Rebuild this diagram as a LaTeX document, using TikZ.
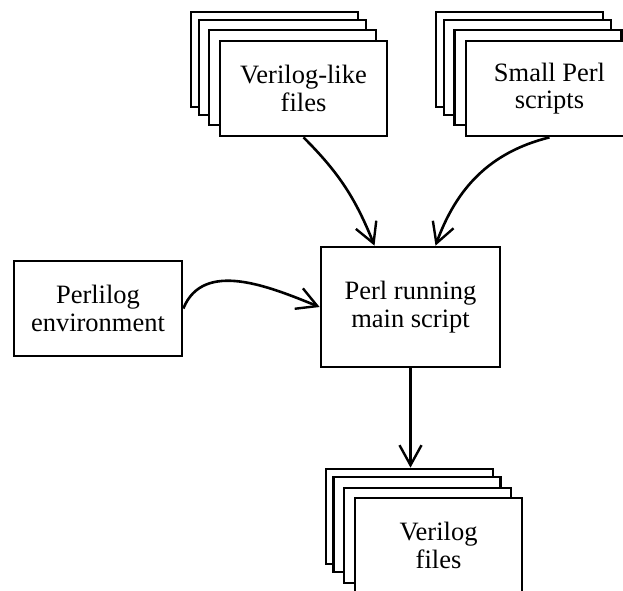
\documentclass[tikz,border=0pt]{standalone}
\usepackage{fontspec}
\setmainfont{Liberation Serif}
\usetikzlibrary{arrows.meta}
\begin{document}
\begin{tikzpicture}[x=1pt,y=-1pt,
  line width=2.7pt,
  every node/.style={font=\fontsize{26.5}{27.5}\selectfont, align=center, inner sep=0pt},
  box/.style={draw, fill=white, minimum width=167pt, minimum height=95pt},
  mainbox/.style={draw, fill=white, minimum width=179pt, minimum height=120pt},
  conn/.style={-{Straight Barb[length=20pt,width=22pt,line width=2.4pt]}, line width=2.6pt}
]
\useasboundingbox (0,0) rectangle (623,590);
\clip (0,0) rectangle (623,590);
% Verilog-like stack
\node[box] (vl0) at (274.5,59.5) {};
\node[box] (vl1) at (282.5,67.5) {};
\node[box] (vl2) at (292.5,77.5) {};
\node[box] (vl) at (303.5,88.5) {Verilog-like\\files};
% Small Perl stack
\node[box] (sp0) at (519.5,59.5) {};
\node[box] (sp1) at (527.5,67.5) {};
\node[box] (sp2) at (538,77.5) {};
\node[box] (sp) at (549.5,88.5) {Small Perl\\scripts};
% Verilog files stack
\node[box] (vf0) at (409.5,516.5) {};
\node[box] (vf1) at (417,524.5) {};
\node[box] (vf2) at (427.5,535.5) {};
\node[box] (vf) at (438.5,545.5) {Verilog\\files};
% Perlilog environment
\node[box, minimum width=168pt] (pe) at (98,308.5) {Perlilog\\environment};
% main
\node[mainbox] (main) at (410.5,307) {Perl running\\main script};
% connectors
\draw[conn] (vl.south) to[out=-45,in=112] ([xshift=-36pt]main.north);
\draw[conn] (sp.south) to[out=194,in=70] ([xshift=25pt]main.north);
\draw[conn] (pe.east) to[out=68,in=158] (main.west);
\draw[conn] (main.south) -- (main.south |- vf0.north);
\end{tikzpicture}
\end{document}
